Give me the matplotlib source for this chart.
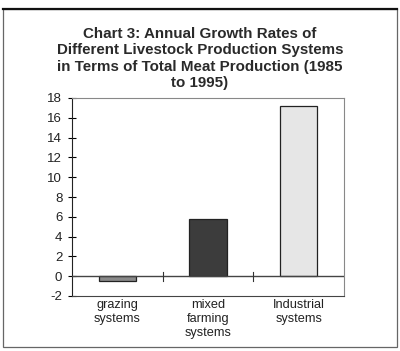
import matplotlib
matplotlib.use("Agg")
import matplotlib.pyplot as plt
from matplotlib.patches import Rectangle
from matplotlib.lines import Line2D

categories = ["grazing\nsystems", "mixed\nfarming\nsystems", "Industrial\nsystems"]
values = [-0.5, 5.8, 17.2]
colors = ["#8a8a8a", "#3c3c3c", "#e6e6e6"]
yticks = [-2, 0, 2, 4, 6, 8, 10, 12, 14, 16, 18]
title = "Chart 3: Annual Growth Rates of\nDifferent Livestock Production Systems\nin Terms of Total Meat Production (1985\nto 1995)"

plt.rcParams['font.family'] = ['Liberation Sans', 'DejaVu Sans']

W, H = 400, 351
fig = plt.figure(figsize=(W/100, H/100), dpi=100)
fig.patch.set_facecolor("white")

# outer frame
fig.add_artist(Rectangle((3/W, 1 - 347/H), 394/W, (347-9)/H, transform=fig.transFigure,
                         fill=False, edgecolor="#666666", linewidth=0.9))
fig.add_artist(Line2D([3/W, 397/W], [1 - 9/H, 1 - 9/H], transform=fig.transFigure,
                      color="#111111", linewidth=1.6))

fig.text(200/W, 1 - 58.5/H, title, ha="center", va="center", fontsize=10.9,
         fontweight="bold", color="#2a2a2a", linespacing=1.22)

left, right, top, bottom = 72, 344, 98, 296
ax = fig.add_axes([left/W, 1 - bottom/H, (right-left)/W, (bottom-top)/H])
x = list(range(len(categories)))
ax.bar(x, values, width=0.41, color=colors, edgecolor="#222222", linewidth=0.9, zorder=3)
ax.set_xlim(-0.5, len(categories) - 0.5)
ax.set_ylim(-2, 18)
ax.set_yticks(yticks)
ax.set_yticklabels([str(v) for v in yticks], fontsize=9.5, color="#222222")
ax.tick_params(axis="y", direction="inout", length=6, width=0.8, pad=4)
ax.set_xticks([])
for s in ["top", "right"]:
    ax.spines[s].set_color("#888888")
    ax.spines[s].set_linewidth(0.8)
ax.spines["left"].set_color("#222222")
ax.spines["bottom"].set_color("#444444")
ax.axhline(0, color="#444444", linewidth=1.0, zorder=4)
for b in [0.5, 1.5]:
    ax.plot([b, b], [-0.45, 0.45], color="#333333", linewidth=0.8, zorder=4)
for i, c in enumerate(categories):
    ax.text(i, -2.35, c, ha="center", va="top", fontsize=9.2, color="#222222",
            linespacing=1.2)

fig.savefig("out.png", dpi=100)
